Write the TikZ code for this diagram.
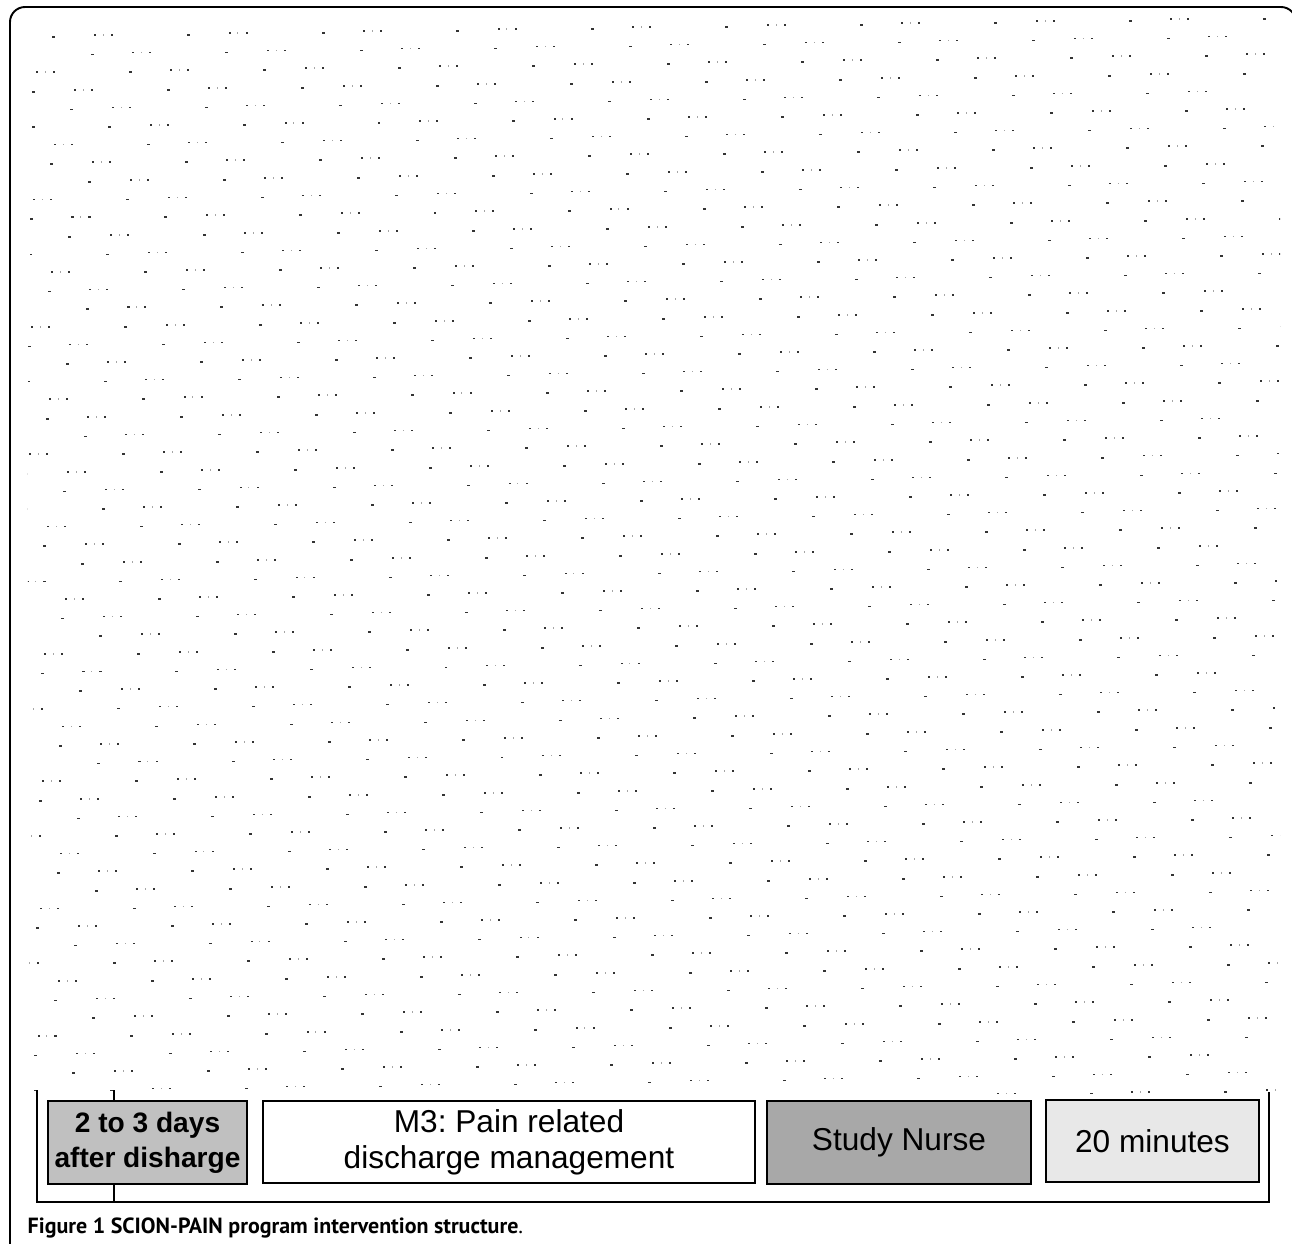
\documentclass[tikz,border=0pt]{standalone}
\usepackage{fontspec}
\setmainfont{Liberation Sans}
\newfontfamily\capfont{PT Sans}
\usetikzlibrary{positioning}
\frenchspacing

\definecolor{daygray}{HTML}{C0C0C0}
\definecolor{nursegray}{HTML}{A8A8A8}
\definecolor{timegray}{HTML}{E8E8E8}

\tikzset{
  stagebox/.style={draw,line width=0.85pt,minimum height=0.83cm,inner sep=0pt,align=center,
    font=\fontsize{9}{10.3}\selectfont},
  frameline/.style={line width=0.55pt},
  speck/.style={fill=black!80}
}

\begin{document}
\begin{tikzpicture}
  \useasboundingbox (0,0) rectangle (12.92,-12.44);
  % outer frame
  \draw[frameline,rounded corners=0.15cm] (0.10,-12.50) -- (0.10,-0.07) -- (12.96,-0.07) -- (12.96,-1.00);
  % background specks
  \begin{scope}
    \clip (0.28,-0.18) rectangle (12.80,-10.93);
    \foreach \r in {0,...,59}{
      \pgfmathsetmacro\xo{mod(54+38.1*\r,134.5)}
      \foreach \i in {-1,...,9}{
        \pgfmathsetmacro\xs{\xo+134.5*\i}
        \pgfmathsetmacro\ys{37+18.18*\r-0.0149*(\xs-54)}
        \fill[speck] ({\xs/100-0.015},{-\ys/100+0.008}) rectangle ++(0.03,-0.016);
        \fill[speck] ({(\xs+41)/100-0.01},{-(\ys-2)/100+0.008}) rectangle ++(0.02,-0.016);
        \fill[black!35] ({(\xs+49.5)/100-0.005},{-(\ys-2)/100+0.008}) rectangle ++(0.01,-0.016);
        \fill[speck] ({(\xs+58)/100-0.01},{-(\ys-2)/100+0.008}) rectangle ++(0.02,-0.016);
      }
    }
  \end{scope}
  % bracket round the row
  \draw[frameline] (0.37,-10.90) -- (0.37,-12.02) -- (12.69,-12.02) -- (12.69,-10.92);
  \draw[frameline] (1.14,-10.90) -- (1.14,-12.02);
  % row of boxes
  \node[stagebox,fill=daygray,minimum width=1.99cm,font=\bfseries\fontsize{8}{10}\selectfont] (days) at (1.475,-11.425) {2 to 3 days\\after disharge};
  \node[stagebox,fill=white,minimum width=4.92cm,minimum height=0.82cm] (mthree) at (5.09,-11.42) {M3: Pain related\\discharge management};
  \node[stagebox,fill=nursegray,minimum width=2.64cm] (nurse) at (8.99,-11.425) {Study Nurse};
  \node[stagebox,fill=timegray,minimum width=2.13cm,minimum height=0.82cm] (time) at (11.525,-11.41) {20 minutes};
  % caption
  \node[anchor=base west,inner sep=0pt,font=\capfont\fontsize{6.25}{7}\selectfont] (caption) at (0.27,-12.33) {\textbf{Figure 1 SCION-PAIN program intervention structure}.};
\end{tikzpicture}
\end{document}
